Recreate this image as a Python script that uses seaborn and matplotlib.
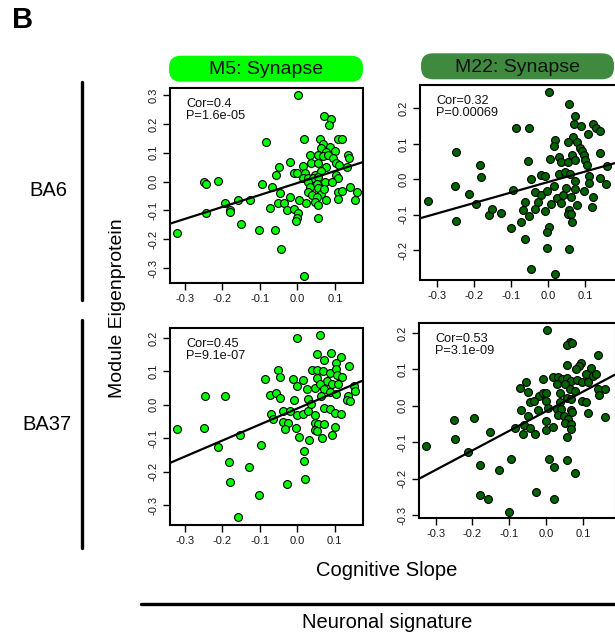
import matplotlib
matplotlib.use("Agg")
import matplotlib.pyplot as plt
from matplotlib.patches import FancyBboxPatch
from matplotlib.lines import Line2D
import seaborn as sns
import pandas as pd

# ---------------- data ----------------
ba6_m5_x = [-0.322, -0.249, -0.245, -0.245, -0.211, -0.194, -0.180, -0.180, -0.159, -0.151, -0.126, -0.102,
            0.002, 0.072, 0.089, 0.084, -0.085, 0.018, 0.060, 0.107, 0.120, 0.069, 0.087, 0.063, 0.075, 0.100,
            0.033, 0.054, 0.067, 0.082, 0.094, 0.136, 0.138, -0.020, 0.036, 0.054, 0.103, 0.110, -0.049, 0.016,
            0.075, 0.131, -0.056, -0.008, 0.000, 0.020, 0.047, 0.064, 0.103, 0.109, 0.016, 0.029, 0.042, 0.056,
            -0.094, -0.069, 0.027, 0.033, 0.051, 0.073, 0.093, 0.054, -0.046, 0.029, 0.064, 0.072, 0.109, 0.120,
            0.140, 0.158, -0.020, 0.005, 0.038, 0.051, 0.075, 0.107, 0.153, -0.073, -0.053, -0.035, 0.022, 0.047,
            0.054, -0.029, -0.008, 0.002, -0.002, -0.005, 0.056, -0.060, -0.044, 0.018]
ba6_m5_y = [-0.179, 0.000, -0.007, -0.107, 0.003, -0.075, -0.098, -0.106, -0.063, -0.148, -0.063, -0.168,
            0.300, 0.227, 0.216, 0.196, 0.138, 0.148, 0.146, 0.146, 0.146, 0.129, 0.121, 0.115, 0.104, 0.107,
            0.092, 0.092, 0.090, 0.092, 0.081, 0.092, 0.081, 0.069, 0.063, 0.066, 0.066, 0.058, 0.052, 0.055,
            0.052, 0.052, 0.023, 0.029, 0.031, 0.029, 0.023, 0.035, 0.023, 0.012, 0.012, 0.014, 0.012, 0.017,
            -0.009, -0.017, -0.002, -0.017, -0.009, -0.002, -0.002, -0.023, -0.038, -0.037, -0.042, -0.027, -0.035, -0.031,
            -0.020, -0.035, -0.055, -0.065, -0.046, -0.055, -0.063, -0.060, -0.063, -0.090, -0.075, -0.075, -0.075, -0.069,
            -0.081, -0.098, -0.095, -0.110, -0.127, -0.136, -0.125, -0.166, -0.234, -0.326]

ba6_m22_x = [-0.325, -0.249, -0.252, -0.249, -0.213, -0.196, -0.183, -0.181, -0.160, -0.153, -0.128,
             0.001, 0.055, 0.073, -0.086, -0.051, 0.069, 0.089, 0.120, 0.129, 0.139, 0.107, 0.019, 0.015, 0.066,
             0.053, 0.077, 0.084, 0.091, 0.096, 0.138, 0.064, -0.054, 0.004, 0.030, 0.035, 0.053, 0.073, 0.100,
             0.104, 0.159, -0.048, -0.021, -0.010, 0.028, 0.046, 0.057, 0.073, 0.109, 0.109, 0.140, 0.156, -0.096,
             -0.035, -0.021, -0.003, 0.016, 0.023, 0.039, 0.048, 0.073, 0.095, 0.120, -0.064, -0.027, 0.006, 0.033,
             0.060, 0.077, 0.118, -0.069, -0.036, -0.010, 0.055, -0.053, 0.053, 0.062, 0.064, -0.102, -0.073, 0.001,
             -0.003, -0.062, -0.003, 0.055, -0.048, 0.019]
ba6_m22_y = [-0.061, 0.076, -0.020, -0.118, -0.041, -0.071, 0.039, 0.006, -0.100, -0.084, -0.094,
             0.245, 0.212, 0.179, 0.146, 0.146, 0.155, 0.151, 0.155, 0.145, 0.137, 0.128, 0.112, 0.094, 0.118,
             0.104, 0.104, 0.089, 0.079, 0.068, 0.075, 0.068, 0.052, 0.056, 0.064, 0.048, 0.048, 0.054, 0.054,
             0.040, 0.037, 0.000, 0.012, 0.010, 0.014, 0.021, 0.016, -0.004, 0.010, -0.010, 0.005, -0.014, -0.029,
             -0.035, -0.045, -0.033, -0.019, -0.054, -0.045, -0.024, -0.026, -0.032, -0.051, -0.065, -0.064, -0.070, -0.068,
             -0.049, -0.073, -0.078, -0.087, -0.084, -0.090, -0.087, -0.104, -0.099, -0.099, -0.120, -0.136, -0.120, -0.134,
             -0.150, -0.169, -0.195, -0.197, -0.252, -0.268]

ba37_m5_x = [-0.320, -0.246, -0.248, -0.194, -0.211, -0.182, -0.180, -0.152, -0.129, -0.159,
             0.000, 0.060, 0.054, 0.091, 0.118, 0.071, 0.104, -0.051, 0.138, 0.040, 0.054, 0.068, 0.089, 0.104,
             -0.085, -0.047, -0.011, 0.016, 0.054, 0.080, 0.107, 0.120, 0.000, 0.027, 0.048, 0.060, 0.073, 0.093,
             0.109, -0.073, -0.056, -0.047, -0.008, 0.029, 0.064, 0.087, 0.103, 0.136, 0.134, 0.153, 0.155, 0.140,
             -0.071, -0.038, -0.020, 0.000, 0.016, 0.029, 0.036, 0.047, 0.073, 0.087, 0.100, 0.116, -0.065, -0.038,
             -0.024, 0.047, 0.057, 0.072, -0.033, -0.002, 0.048, 0.054, 0.102, 0.005, 0.018, 0.031, 0.067, 0.093,
             0.018, 0.020, -0.096, -0.102, -0.027]
ba37_m5_y = [-0.072, 0.026, -0.069, 0.027, -0.126, -0.170, -0.232, -0.090, -0.187, -0.335,
             0.201, 0.209, 0.151, 0.154, 0.144, 0.133, 0.126, 0.105, 0.115, 0.103, 0.105, 0.101, 0.094, 0.106,
             0.078, 0.083, 0.076, 0.073, 0.079, 0.071, 0.088, 0.083, 0.056, 0.046, 0.051, 0.063, 0.048, 0.063,
             0.061, 0.028, 0.034, 0.019, 0.013, 0.016, 0.026, 0.039, 0.031, 0.026, 0.013, 0.056, 0.041, 0.011,
             -0.029, -0.019, -0.019, -0.031, -0.029, -0.019, 0.003, -0.031, -0.011, -0.014, -0.024, -0.027, -0.044, -0.051,
             -0.054, -0.054, -0.059, -0.059, -0.072, -0.069, -0.074, -0.079, -0.067, -0.096, -0.139, -0.104, -0.099, -0.089,
             -0.169, -0.221, -0.119, -0.271, -0.236]

ba37_m22_x = [-0.325, -0.251, -0.248, -0.212, -0.197, -0.180, -0.181, -0.159, -0.153, -0.128,
              0.003, 0.064, 0.055, 0.071, 0.141, 0.094, 0.088, 0.057, 0.080, 0.121, -0.009, 0.019, 0.032, 0.043,
              0.057, 0.068, 0.082, 0.109, 0.127, 0.136, 0.030, 0.052, 0.096, 0.113, -0.072, -0.054, -0.050, -0.019,
              -0.009, 0.000, 0.037, 0.064, 0.077, 0.139, 0.160, 0.143, -0.045, -0.034, 0.000, 0.037, 0.057, 0.068,
              0.097, 0.109, -0.069, -0.022, 0.005, 0.028, 0.039, 0.067, 0.071, -0.049, 0.032, 0.048, 0.059, 0.112,
              -0.086, -0.061, -0.045, -0.063, -0.031, -0.001, -0.002, 0.019, 0.050, 0.066, 0.068, 0.057, 0.159,
              -0.095, 0.007, 0.021, 0.057, 0.079, -0.027, 0.021, -0.101]
ba37_m22_y = [-0.111, -0.038, -0.091, -0.128, -0.034, -0.162, -0.246, -0.255, -0.073, -0.175,
              0.207, 0.176, 0.166, 0.171, 0.140, 0.117, 0.110, 0.111, 0.100, 0.103, 0.073, 0.078, 0.080, 0.073,
              0.075, 0.068, 0.071, 0.087, 0.082, 0.087, 0.059, 0.059, 0.064, 0.066, 0.050, 0.064, 0.038, 0.027,
              0.036, 0.034, 0.036, 0.045, 0.041, 0.045, 0.045, 0.029, 0.011, 0.012, 0.012, 0.009, 0.020, 0.018,
              0.012, 0.009, -0.011, -0.011, -0.005, -0.009, -0.008, -0.011, -0.018, -0.028, -0.026, -0.029, -0.037, -0.021,
              -0.062, -0.053, -0.062, -0.078, -0.078, -0.041, -0.066, -0.057, -0.046, -0.050, -0.064, -0.087, -0.030,
              -0.145, -0.146, -0.167, -0.148, -0.185, -0.236, -0.256, -0.291]

module_titles = ["M5: Synapse", "M22: Synapse"]
region_labels = ["BA6", "BA37"]
stat_labels = [["Cor=0.4\nP=1.6e-05", "Cor=0.32\nP=0.00069"],
               ["Cor=0.45\nP=9.1e-07", "Cor=0.53\nP=3.1e-09"]]
x_ticks = [-0.3, -0.2, -0.1, 0.0, 0.1]
y_ticks = [[[-0.3, -0.2, -0.1, 0.0, 0.1, 0.2, 0.3], [-0.2, -0.1, 0.0, 0.1, 0.2]],
           [[-0.3, -0.2, -0.1, 0.0, 0.1, 0.2], [-0.3, -0.2, -0.1, 0.0, 0.1, 0.2]]]

panels = [[(ba6_m5_x, ba6_m5_y), (ba6_m22_x, ba6_m22_y)],
          [(ba37_m5_x, ba37_m5_y), (ba37_m22_x, ba37_m22_y)]]

# ---------------- style ----------------
sns.set_style("ticks")
plt.rcParams["font.family"] = ["Liberation Sans", "DejaVu Sans"]
plt.rcParams["text.color"] = "black"
plt.rcParams["xtick.color"] = "black"
plt.rcParams["ytick.color"] = "black"

W, H = 615, 636
fig = plt.figure(figsize=(W / 100, H / 100), dpi=100)

def fx(px):
    return px / W

def fy(py):
    return 1 - py / H

point_colors = ["#00ff00", "#006400"]
header_colors = ["#00ff00", "#3f8a3f"]

# axes boxes in pixels (left, top, right, bottom); right column runs off the canvas edge
boxes = [[(170, 88, 363, 283), (420, 85, 617, 280)],
         [(170, 328, 363, 525), (419, 323, 616, 518)]]
xlims = [[(-0.340, 0.175), (-0.346, 0.185)], [(-0.340, 0.176), (-0.345, 0.189)]]
ylims = [[(-0.351, 0.324), (-0.284, 0.266)], [(-0.360, 0.230), (-0.308, 0.227)]]

for r in range(2):
    for c in range(2):
        l, t, rr, b = boxes[r][c]
        ax = fig.add_axes([fx(l), fy(b), (rr - l) / W, (b - t) / H])
        ax.set_xlim(*xlims[r][c])
        ax.set_ylim(*ylims[r][c])
        xs, ys = panels[r][c]
        df = pd.DataFrame({"slope": xs, "eig": ys})
        sns.regplot(data=df, x="slope", y="eig", ax=ax, ci=None, truncate=False,
                    scatter_kws=dict(s=32, color=point_colors[c], edgecolor="black",
                                     linewidths=0.8, alpha=1, zorder=3),
                    line_kws=dict(color="black", lw=1.6, zorder=4))
        ax.set_xlim(*xlims[r][c])
        ax.set_ylim(*ylims[r][c])
        ax.set_xlabel("")
        ax.set_ylabel("")
        ax.set_xticks(x_ticks)
        ax.set_xticklabels([f"{v:.1f}" for v in x_ticks])
        ax.set_yticks(y_ticks[r][c])
        ax.set_yticklabels([f"{v:.1f}" for v in y_ticks[r][c]])
        for s in ax.spines.values():
            s.set_visible(True)
            s.set_linewidth(1.5)
            s.set_color("black")
        ax.tick_params(axis="both", direction="out", length=5, width=1.0,
                       labelsize=8, labelcolor="#1a1a1a", color="black", pad=3)
        for lab in ax.get_yticklabels():
            lab.set_rotation(90)
            lab.set_va("center")
            lab.set_ha("right")
        ax.text(16 / (rr - l), 1 - 10 / (b - t), stat_labels[r][c], transform=ax.transAxes,
                ha="left", va="top", fontsize=9.2, linespacing=1.05, color="#111111")

# header boxes
hdr = [(169, 55.7, 363, 81.7), (421, 53.3, 614, 79.3)]
for c, (l, t, rr, b) in enumerate(hdr):
    patch = FancyBboxPatch((l / 100, (H - b) / 100), (rr - l) / 100, (b - t) / 100,
                           boxstyle="round,pad=0,rounding_size=0.12",
                           transform=fig.dpi_scale_trans, facecolor=header_colors[c],
                           edgecolor="none")
    fig.add_artist(patch)
    fig.text(fx((l + rr) / 2), fy((t + b) / 2 + 1), module_titles[c], ha="center", va="center",
             fontsize=14, color="#111111")

# panel letter
fig.text(fx(12), fy(20), "B", fontsize=21, fontweight="bold", ha="left", va="center", color="black")

# region bars and labels
fig.add_artist(Line2D([fx(82), fx(82)], [fy(82), fy(300)], lw=2.4, color="black"))
fig.add_artist(Line2D([fx(82), fx(82)], [fy(320), fy(548)], lw=2.4, color="black"))
fig.text(fx(48), fy(191), region_labels[0], ha="center", va="center", fontsize=14.5, color="black")
fig.text(fx(47), fy(425), region_labels[1], ha="center", va="center", fontsize=14.5, color="black")

fig.text(fx(117), fy(308), "Module Eigenprotein", rotation=90, ha="center", va="center",
         fontsize=14, color="black")
fig.text(fx(387), fy(571), "Cognitive Slope", ha="center", va="center", fontsize=14.5, color="black")

fig.add_artist(Line2D([fx(141), fx(615)], [fy(604), fy(604)], lw=2.4, color="black"))
fig.text(fx(387), fy(622), "Neuronal signature", ha="center", va="center", fontsize=14.5, color="black")

fig.savefig("out.png", dpi=100)
